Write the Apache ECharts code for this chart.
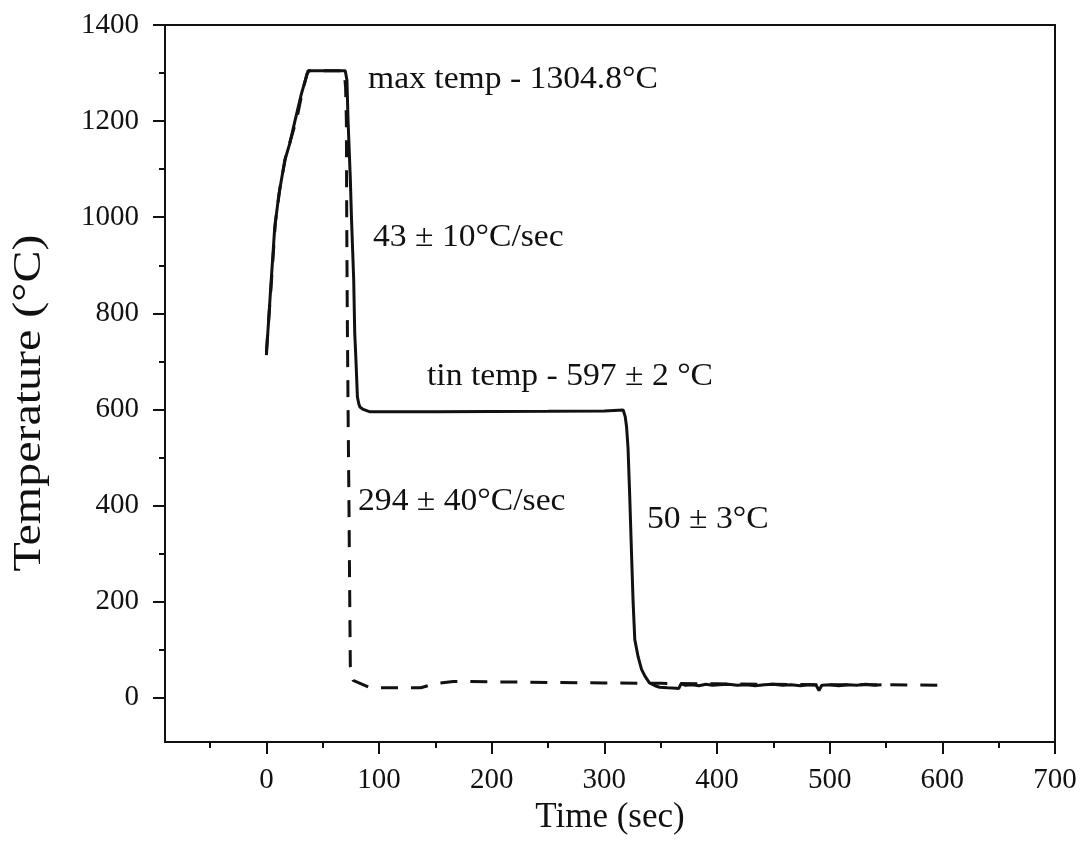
<!DOCTYPE html>
<html>
<head>
<meta charset="utf-8">
<script src="https://cdn.jsdelivr.net/npm/echarts@6/dist/echarts.min.js"></script>
<style>
html,body{margin:0;padding:0;background:#fff;}
#chart{width:1081px;height:852px;}
</style>
</head>
<body>
<div id="chart"></div>
<script>
// ---- data ----
var xMajorTicks = [0, 100, 200, 300, 400, 500, 600, 700];
var xMinorTicks = [-50, 50, 150, 250, 350, 450, 550, 650];
var yMajorTicks = [0, 200, 400, 600, 800, 1000, 1200, 1400];
var yMinorTicks = [100, 300, 500, 700, 900, 1100, 1300];

var xTitle = 'Time (sec)';
var yTitle = 'Temperature (°C)';

// solid trace: time (s), temperature (°C)
var solidTime = [0, 3.5, 7.4, 11.2, 16.3, 20.7, 25, 31, 37, 70, 71.5, 72.5, 74.5, 75.5, 77.5, 78.4, 79.5, 80.8, 82, 83, 86, 92, 150, 250, 300, 316.7, 318.5, 319.7, 321, 322.5, 324, 325.5, 327, 330, 333, 336, 340, 345, 349, 356, 364, 366, 368, 372, 378, 384, 390, 396, 402, 410, 418, 426, 434, 442, 450, 458, 466, 474, 482, 488, 490.5, 493, 500, 508, 516, 524, 532, 540, 546];
var solidTemp = [713, 841, 979, 1049, 1118, 1153, 1197, 1256, 1304.8, 1304.8, 1285, 1200, 1080, 1000, 870, 760, 702, 626, 612, 605, 600, 595, 595, 596, 597, 599, 585, 564, 520, 420, 308, 200, 121, 85, 59, 45, 31, 25, 22, 21, 20, 19, 29, 26, 27, 25, 28, 26, 27, 28, 26, 27, 25, 27, 28, 26, 27, 25, 27, 26, 15, 26, 27, 25, 27, 26, 28, 26, 27];

// dashed trace: time (s), temperature (°C)
var dashTime = [0, 4, 8, 12, 17, 22, 27, 32, 36, 38, 69, 70.3, 71, 71.3, 71.8, 72.5, 73.3, 74, 74.5, 77, 92, 137, 151, 166, 250, 300, 350, 400, 450, 500, 550, 600];
var dashTemp = [720, 850, 990, 1060, 1125, 1165, 1205, 1262, 1298, 1304.8, 1304.8, 1270, 1200, 1000, 800, 600, 400, 200, 66, 36, 21, 21, 30, 34, 32, 31, 30, 29, 28, 27, 27, 26];

var annotations = ['max temp - 1304.8°C', '43 ± 10°C/sec', 'tin temp - 597 ± 2 °C', '294 ± 40°C/sec', '50 ± 3°C'];

function pairs(xs, ys) { return xs.map(function (x, i) { return [x, ys[i]]; }); }

var FONT = '"Liberation Serif", "Times New Roman", serif';
var INK = '#111';

var chart = echarts.init(document.getElementById('chart'), null, {renderer: 'canvas'});

var grid = {left: 165, right: 26, top: 25, bottom: 110, show: true, borderColor: INK, borderWidth: 2, backgroundColor: 'transparent'};

var xBase = {type: 'value', min: -90, max: 700, position: 'bottom', splitLine: {show: false}};
var yBase = {type: 'value', min: -92, max: 1400, position: 'left', splitLine: {show: false}};
var plain = function (v) { return String(v); };

var option = {
  animation: false,
  backgroundColor: '#fff',
  grid: grid,
  xAxis: [
    Object.assign({}, xBase, {
      name: xTitle,
      nameLocation: 'middle',
      nameGap: 57,
      nameTextStyle: {fontFamily: FONT, fontSize: 35, color: INK},
      axisLine: {show: true, onZero: false, lineStyle: {color: INK, width: 2}},
      axisTick: {show: true, length: 12, customValues: xMajorTicks, lineStyle: {color: INK, width: 2}},
      axisLabel: {show: true, customValues: xMajorTicks, formatter: plain, margin: 24, fontFamily: FONT, fontSize: 29, color: INK}
    }),
    Object.assign({}, xBase, {
      axisLine: {show: false, onZero: false},
      axisTick: {show: true, length: 6, customValues: xMinorTicks, lineStyle: {color: INK, width: 2}},
      axisLabel: {show: false}
    })
  ],
  yAxis: [
    Object.assign({}, yBase, {
      axisLine: {show: true, onZero: false, lineStyle: {color: INK, width: 2}},
      axisTick: {show: true, length: 12, customValues: yMajorTicks, lineStyle: {color: INK, width: 2}},
      axisLabel: {show: true, customValues: yMajorTicks, formatter: plain, margin: 26, fontFamily: FONT, fontSize: 29, color: INK}
    }),
    Object.assign({}, yBase, {
      axisLine: {show: false, onZero: false},
      axisTick: {show: true, length: 6, customValues: yMinorTicks, lineStyle: {color: INK, width: 2}},
      axisLabel: {show: false}
    })
  ],
  series: [
    {
      type: 'line', xAxisIndex: 0, yAxisIndex: 0,
      data: pairs(dashTime, dashTemp),
      showSymbol: false, symbol: 'none',
      lineStyle: {color: INK, width: 3, type: [17, 13]},
      z: 2
    },
    {
      type: 'line', xAxisIndex: 0, yAxisIndex: 0,
      data: pairs(solidTime, solidTemp),
      showSymbol: false, symbol: 'none',
      lineStyle: {color: INK, width: 3},
      z: 3
    }
  ],
  graphic: [
    {type: 'text', x: 29, y: 403, rotation: Math.PI / 2, scaleX: 1.17,
      style: {text: yTitle, font: '41px ' + FONT, fill: INK, align: 'center', verticalAlign: 'middle'}},
    {type: 'text', x: 368, y: 80, scaleX: 1.085, style: {text: annotations[0], font: '31px ' + FONT, fill: INK, verticalAlign: 'middle'}},
    {type: 'text', x: 373, y: 238, scaleX: 1.085, style: {text: annotations[1], font: '31px ' + FONT, fill: INK, verticalAlign: 'middle'}},
    {type: 'text', x: 427, y: 377, scaleX: 1.085, style: {text: annotations[2], font: '31px ' + FONT, fill: INK, verticalAlign: 'middle'}},
    {type: 'text', x: 358, y: 502, scaleX: 1.085, style: {text: annotations[3], font: '31px ' + FONT, fill: INK, verticalAlign: 'middle'}},
    {type: 'text', x: 647, y: 520, scaleX: 1.085, style: {text: annotations[4], font: '31px ' + FONT, fill: INK, verticalAlign: 'middle'}}
  ]
};
chart.setOption(option);
</script>
</body>
</html>
